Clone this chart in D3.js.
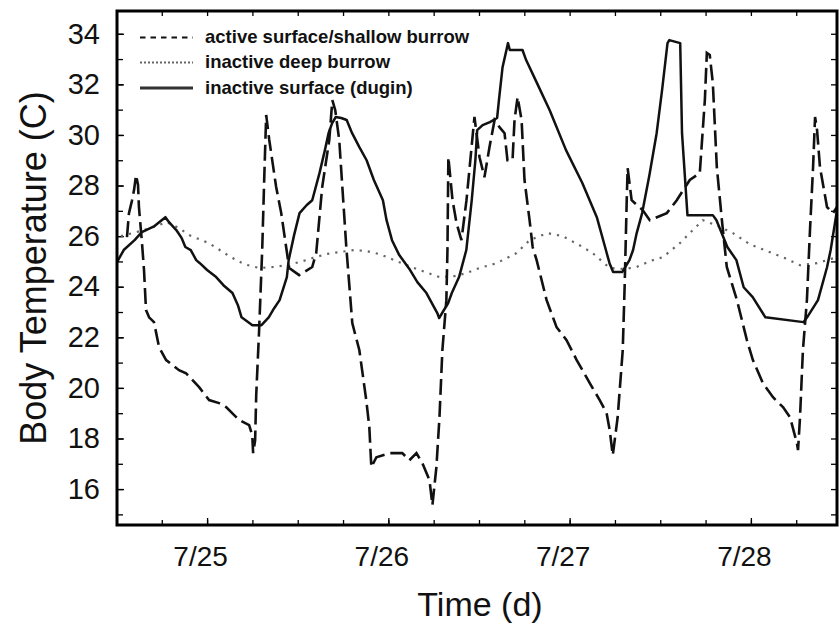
<!DOCTYPE html>
<html>
<head>
<meta charset="utf-8">
<script src="https://cdn.jsdelivr.net/npm/d3@7"></script>
<style>
  html, body { margin: 0; padding: 0; background: #fff; }
  svg { display: block; font-family: "Liberation Sans", Arial, sans-serif; }
</style>
</head>
<body>
<div id="chart"></div>
<script>
// Series: [day of July, body temperature in C]
const activeSurface = [
  [24.558,25.96],[24.569,26.91],[24.586,27.42],[24.597,27.82],[24.608,28.41],[24.619,28.02],[24.624,27.15],
  [24.641,25.72],[24.652,24.66],[24.663,23.08],[24.680,22.79],[24.707,22.60],[24.735,21.61],[24.774,21.10],
  [24.845,20.70],[24.884,20.58],[24.956,20.03],[25.011,19.52],[25.066,19.40],[25.105,19.24],[25.177,18.73],
  [25.232,18.53],[25.249,18.13],[25.254,17.42],[25.265,17.93],[25.271,19.71],[25.287,22.28],[25.304,25.45],
  [25.315,28.22],[25.326,30.79],[25.343,29.80],[25.381,27.94],[25.409,26.91],[25.436,25.57],[25.453,24.74],
  [25.508,24.46],[25.580,24.78],[25.602,25.33],[25.635,27.94],[25.674,29.80],[25.691,31.38],[25.707,30.98],
  [25.729,29.80],[25.768,25.57],[25.801,22.56],[25.840,21.49],[25.878,19.52],[25.895,18.45],[25.906,16.87],
  [25.934,17.26],[26.006,17.42],[26.077,17.42],[26.116,17.14],[26.155,17.42],[26.188,17.02],[26.227,16.35],
  [26.243,15.36],[26.265,16.87],[26.282,18.84],[26.298,21.49],[26.320,23.47],[26.326,25.45],[26.331,29.12],
  [26.354,27.42],[26.376,26.52],[26.403,25.84],[26.431,27.42],[26.459,29.52],[26.475,30.71],[26.503,29.12],
  [26.530,28.33],[26.558,29.52],[26.586,30.59],[26.613,30.31],[26.641,30.07],[26.657,29.00],[26.685,29.00],
  [26.696,30.59],[26.713,31.50],[26.735,30.59],[26.751,28.22],[26.779,26.63],[26.796,25.57],[26.818,25.05],
  [26.873,23.47],[26.928,22.40],[26.983,21.89],[27.039,21.10],[27.111,20.19],[27.166,19.52],[27.204,19.00],
  [27.221,18.33],[27.238,17.34],[27.265,18.84],[27.293,21.49],[27.304,24.14],[27.315,27.42],[27.320,28.69],
  [27.342,27.42],[27.403,27.03],[27.442,26.63],[27.536,26.91],[27.591,27.42],[27.663,28.22],[27.718,28.49],
  [27.746,31.38],[27.757,33.24],[27.773,33.16],[27.790,32.05],[27.812,28.73],[27.840,26.63],[27.867,24.78],
  [27.923,23.47],[27.978,21.89],[28.011,21.10],[28.066,20.19],[28.122,19.63],[28.177,19.24],[28.216,18.84],
  [28.254,17.81],[28.260,17.54],[28.271,18.84],[28.287,21.49],[28.309,23.47],[28.326,26.24],[28.343,28.73],
  [28.354,30.71],[28.365,30.19],[28.381,28.73],[28.420,27.15],[28.453,26.91],[28.475,27.15]
];

const deepBurrow = [
  [24.525,26.00],[24.652,26.24],[24.718,26.40],[24.779,26.55],[24.845,26.32],[24.901,26.04],[25.011,25.72],
  [25.122,25.21],[25.204,24.89],[25.287,24.74],[25.370,24.78],[25.436,24.85],[25.508,24.97],[25.580,25.13],
  [25.657,25.29],[25.729,25.37],[25.812,25.45],[25.878,25.41],[25.950,25.29],[26.006,25.13],[26.088,24.89],
  [26.171,24.66],[26.282,24.38],[26.365,24.42],[26.431,24.54],[26.503,24.74],[26.597,24.93],[26.707,25.33],
  [26.779,25.84],[26.878,26.12],[26.961,26.00],[27.055,25.64],[27.127,25.33],[27.221,24.74],[27.304,24.70],
  [27.370,24.78],[27.442,25.01],[27.514,25.17],[27.608,25.72],[27.663,26.12],[27.735,26.63],[27.818,26.40],
  [27.901,26.12],[27.994,25.68],[28.088,25.41],[28.188,25.13],[28.271,24.85],[28.365,24.93],[28.475,25.17]
];

const surfaceDugin = [
  [24.50,24.93],[24.54,25.45],[24.60,25.84],[24.64,26.16],[24.71,26.40],[24.77,26.75],[24.79,26.55],
  [24.83,26.24],[24.86,25.92],[24.88,25.57],[24.91,25.45],[24.94,25.05],[24.96,24.93],[25.00,24.66],
  [25.05,24.38],[25.09,24.06],[25.14,23.75],[25.17,23.27],[25.19,22.79],[25.25,22.48],[25.30,22.48],
  [25.34,22.79],[25.37,23.15],[25.40,23.47],[25.44,24.38],[25.45,25.05],[25.48,26.04],[25.51,26.91],
  [25.55,27.23],[25.58,27.42],[25.62,28.49],[25.65,29.40],[25.67,30.07],[25.69,30.47],[25.71,30.71],
  [25.74,30.67],[25.77,30.59],[25.80,30.07],[25.84,29.52],[25.88,29.00],[25.92,28.22],[25.97,27.42],
  [25.99,26.63],[26.02,25.84],[26.06,25.25],[26.12,24.66],[26.16,24.18],[26.21,23.75],[26.24,23.35],
  [26.27,22.96],[26.28,22.76],[26.30,23.00],[26.33,23.35],[26.35,23.75],[26.39,24.38],[26.43,25.45],
  [26.46,27.42],[26.48,29.00],[26.49,30.19],[26.52,30.39],[26.56,30.51],[26.60,30.67],[26.61,31.38],
  [26.63,32.68],[26.66,33.63],[26.67,33.36],[26.74,33.36],[26.76,32.96],[26.82,32.05],[26.89,30.98],
  [26.98,29.40],[27.07,28.10],[27.15,26.75],[27.20,25.45],[27.22,24.93],[27.24,24.58],[27.29,24.58],
  [27.33,25.05],[27.35,25.45],[27.37,26.12],[27.40,26.91],[27.44,28.41],[27.48,30.07],[27.51,31.77],
  [27.54,33.63],[27.55,33.75],[27.61,33.63],[27.62,30.07],[27.65,26.83],[27.79,26.83],[27.81,26.63],
  [27.87,25.57],[27.92,25.05],[27.96,23.98],[28.01,23.59],[28.08,22.79],[28.29,22.60],[28.31,22.79],
  [28.37,23.47],[28.42,24.77],[28.44,25.45],[28.475,27.03]
];

// Axis ticks and labels
const xTickValues = [25, 26, 27, 28];
const xTickLabels = ['7/25', '7/26', '7/27', '7/28'];
const yTickValues = [16, 18, 20, 22, 24, 26, 28, 30, 32, 34];
const legendLabels = ['active surface/shallow burrow', 'inactive deep burrow', 'inactive surface (dugin)'];

const width = 839, height = 625;
const margin = {top: 11, right: 2, bottom: 100, left: 117};

const svg = d3.select('#chart').append('svg')
    .attr('width', width)
    .attr('height', height);

const x = d3.scaleLinear()
    .domain([24.503, 28.475])
    .range([margin.left, width - margin.right]);

const y = d3.scaleLinear()
    .domain([14.58, 34.9])
    .range([height - margin.bottom, margin.top]);

svg.append('defs').append('clipPath').attr('id', 'plot-clip')
    .append('rect')
    .attr('x', margin.left).attr('y', margin.top)
    .attr('width', width - margin.left - margin.right)
    .attr('height', height - margin.top - margin.bottom);

// quarter-day and 1 degree minor ticks
const xMinor = d3.range(24.75, 28.476, 0.25);
const yMinor = d3.range(15, 35, 1);

function styleAxis(g) {
    g.select('.domain').remove();
    g.selectAll('line').attr('stroke', '#000').attr('stroke-width', 1.3);
}

svg.append('g')
    .attr('transform', `translate(0,${height - margin.bottom})`)
    .call(d3.axisBottom(x).tickValues(xMinor).tickSize(-5).tickFormat(''))
    .call(styleAxis);
svg.append('g')
    .attr('transform', `translate(0,${margin.top})`)
    .call(d3.axisTop(x).tickValues(xMinor).tickSize(-5).tickFormat(''))
    .call(styleAxis);
svg.append('g')
    .attr('transform', `translate(${margin.left},0)`)
    .call(d3.axisLeft(y).tickValues(yMinor).tickSize(-6).tickFormat(''))
    .call(styleAxis);
svg.append('g')
    .attr('transform', `translate(${width - margin.right},0)`)
    .call(d3.axisRight(y).tickValues(yMinor).tickSize(-6).tickFormat(''))
    .call(styleAxis);

// labelled ticks
const xAxis = svg.append('g')
    .attr('transform', `translate(0,${height - margin.bottom})`)
    .call(d3.axisBottom(x).tickValues(xTickValues).tickSize(-7).tickPadding(21)
        .tickFormat((d, i) => xTickLabels[i]))
    .call(styleAxis);
xAxis.selectAll('text')
    .attr('font-size', 28).attr('fill', '#111').attr('dx', -7)
    .attr('font-family', '"Liberation Sans", Arial, sans-serif');

const yAxis = svg.append('g')
    .attr('transform', `translate(${margin.left},0)`)
    .call(d3.axisLeft(y).tickValues(yTickValues).tickSize(-7).tickPadding(17))
    .call(styleAxis);
yAxis.selectAll('text')
    .attr('font-size', 29).attr('fill', '#111')
    .attr('font-family', '"Liberation Sans", Arial, sans-serif');

// data lines
const line = d3.line().x(d => x(d[0])).y(d => y(d[1]));
const plot = svg.append('g').attr('clip-path', 'url(#plot-clip)');

plot.append('path')
    .datum(deepBurrow)
    .attr('d', line)
    .attr('fill', 'none')
    .attr('stroke', '#666')
    .attr('stroke-width', 2.2)
    .attr('stroke-dasharray', '2.2,6');

plot.append('path')
    .datum(surfaceDugin)
    .attr('d', line)
    .attr('fill', 'none')
    .attr('stroke', '#111')
    .attr('stroke-width', 2.5)
    .attr('stroke-linejoin', 'round');

plot.append('path')
    .datum(activeSurface)
    .attr('d', line)
    .attr('fill', 'none')
    .attr('stroke', '#111')
    .attr('stroke-width', 2.6)
    .attr('stroke-dasharray', '16,6');

// frame
svg.append('rect')
    .attr('x', margin.left).attr('y', margin.top)
    .attr('width', width - margin.left - margin.right)
    .attr('height', height - margin.top - margin.bottom)
    .attr('fill', 'none')
    .attr('stroke', '#000')
    .attr('stroke-width', 3);

// legend
const legendStyles = [
    {dash: '5.5,5', color: '#111', w: 2.2},
    {dash: '2,2', color: '#666', w: 2},
    {dash: null, color: '#333', w: 3.2}
];
const legendY = [37.5, 62.5, 88];
legendLabels.forEach((label, i) => {
    const g = svg.append('g');
    g.append('line')
        .attr('x1', 140).attr('x2', 193)
        .attr('y1', legendY[i]).attr('y2', legendY[i])
        .attr('stroke', legendStyles[i].color)
        .attr('stroke-width', legendStyles[i].w)
        .attr('stroke-dasharray', legendStyles[i].dash);
    g.append('text')
        .attr('x', 205).attr('y', legendY[i] + 5.5)
        .attr('font-size', 18.5)
        .attr('font-weight', 'bold')
        .attr('fill', '#111')
        .text(label);
});

// axis titles
svg.append('text')
    .attr('transform', `translate(46,268) rotate(-90)`)
    .attr('text-anchor', 'middle')
    .attr('font-size', 36)
    .attr('fill', '#111')
    .text('Body Temperature (C)');

svg.append('text')
    .attr('x', 480).attr('y', 616)
    .attr('text-anchor', 'middle')
    .attr('font-size', 34)
    .attr('fill', '#111')
    .text('Time (d)');
</script>
</body>
</html>
